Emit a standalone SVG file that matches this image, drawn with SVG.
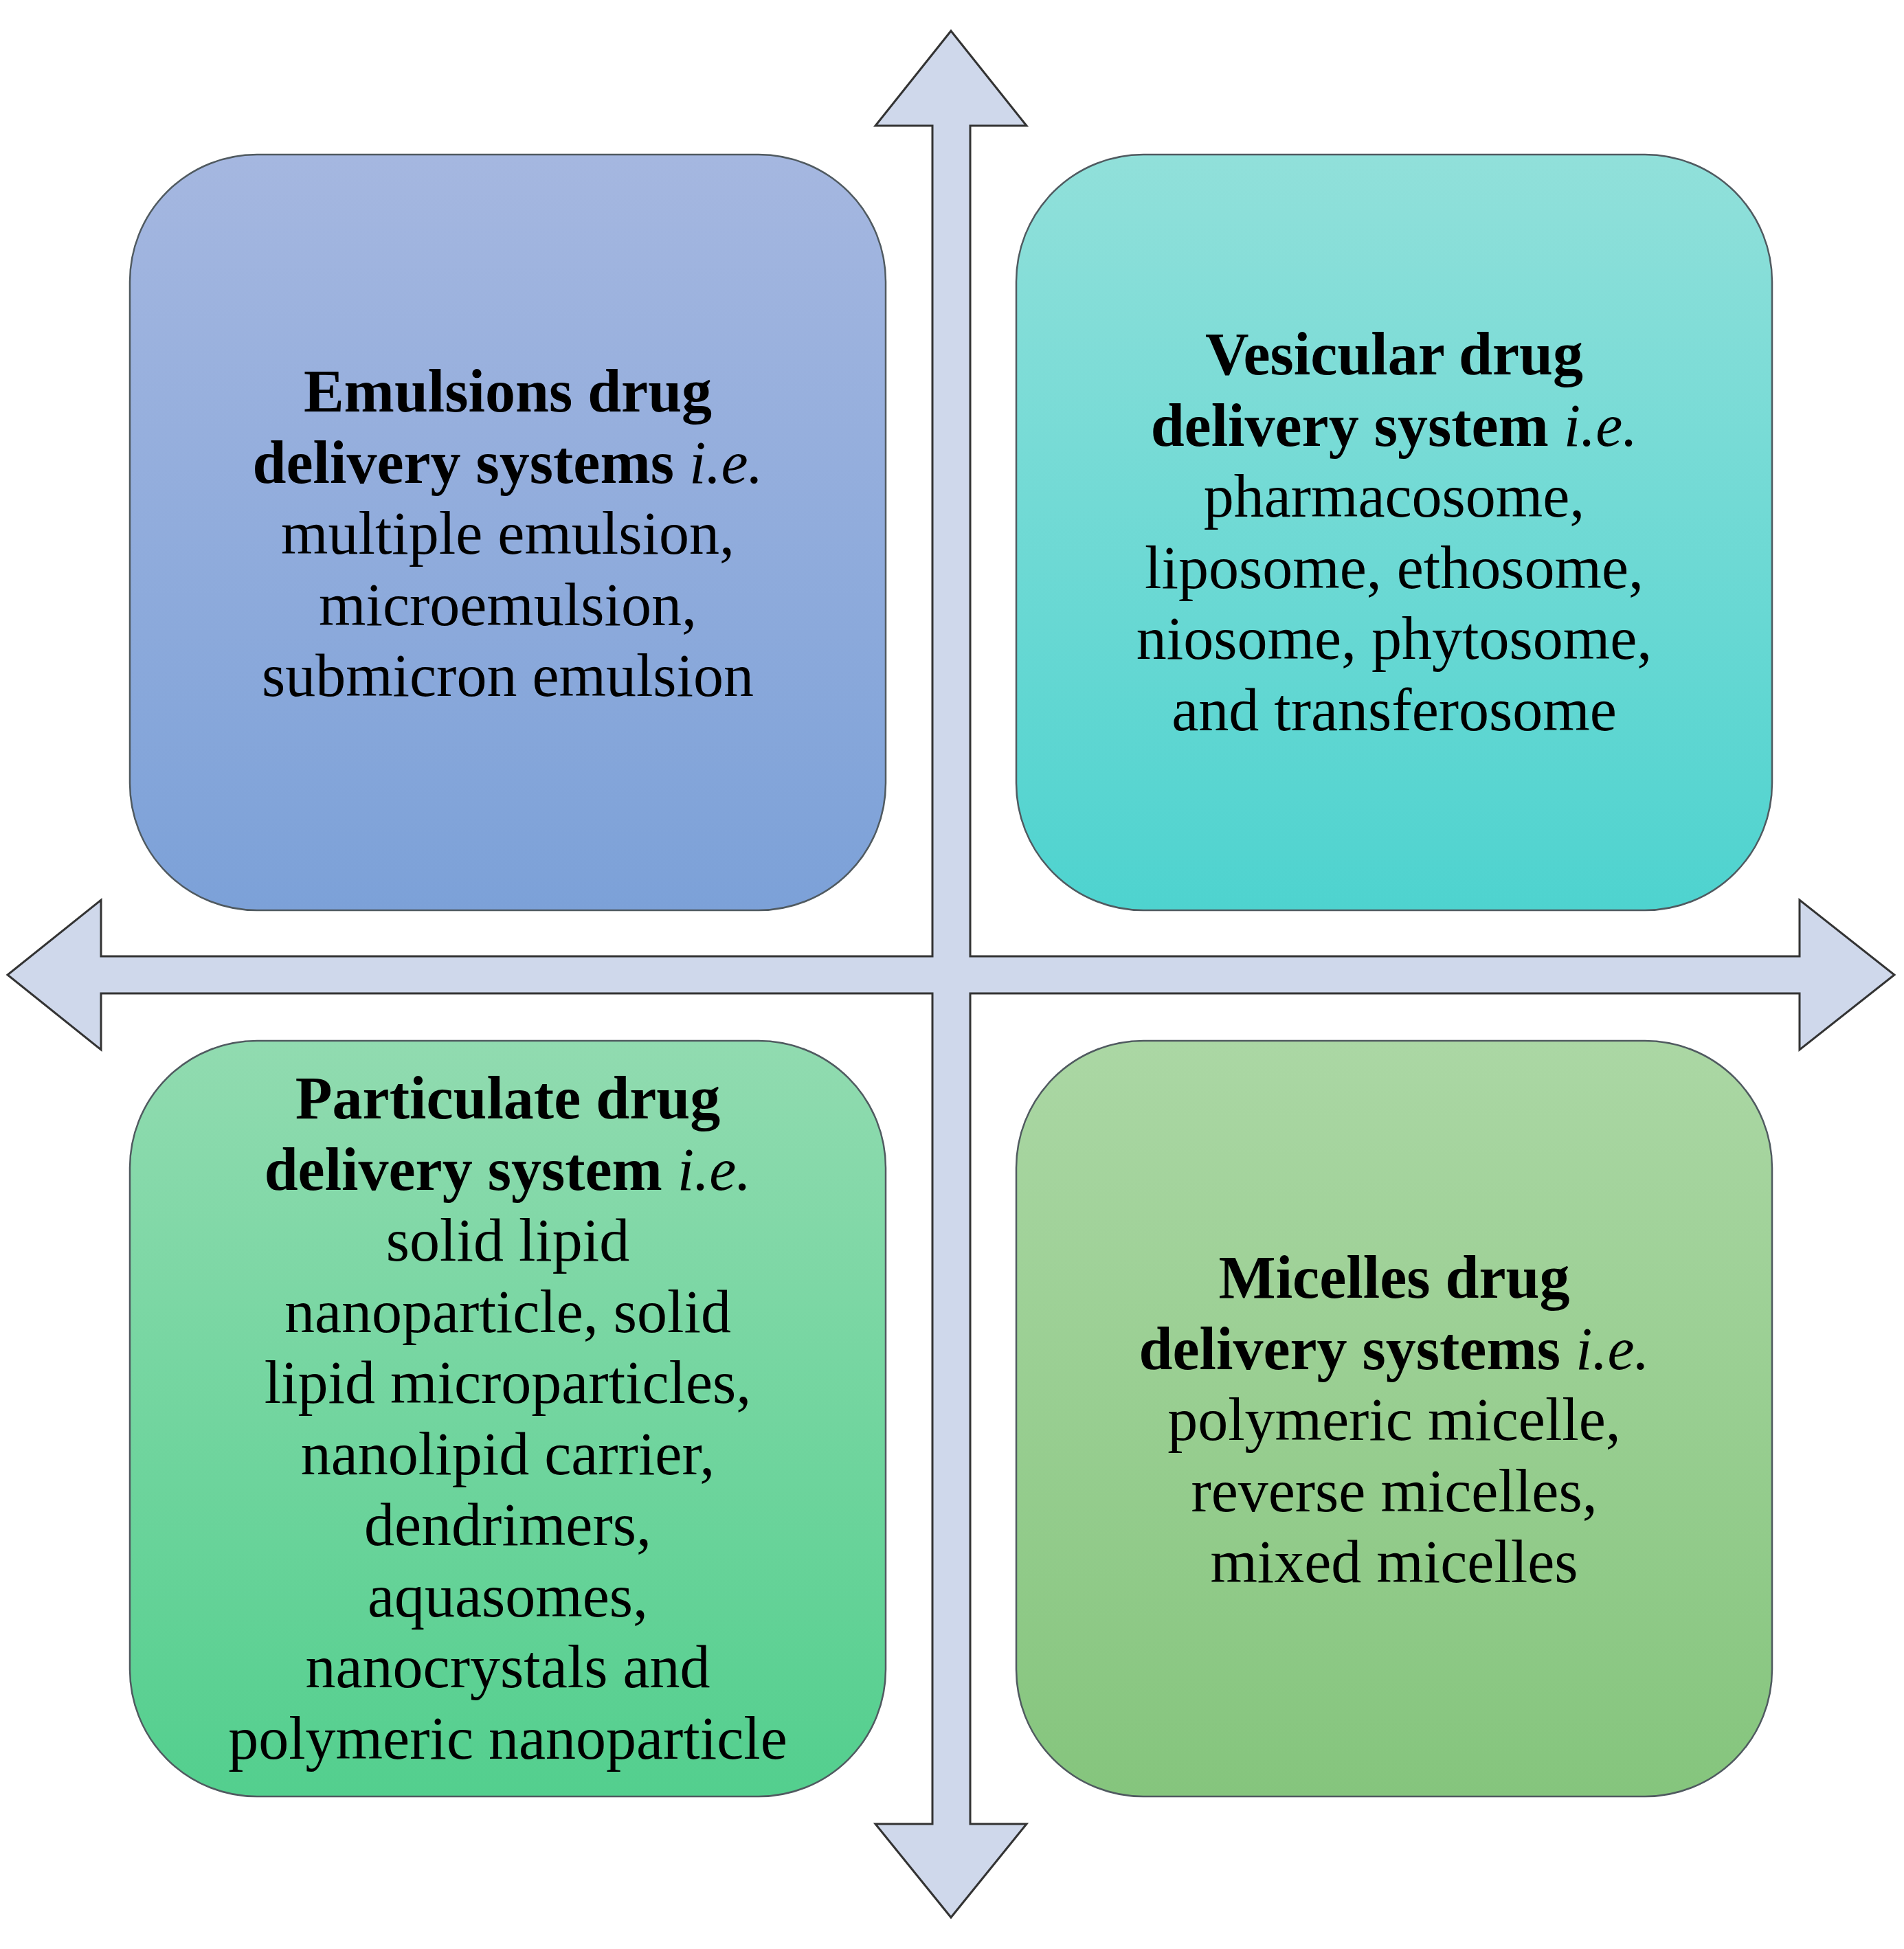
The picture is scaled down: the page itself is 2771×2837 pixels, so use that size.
<svg xmlns="http://www.w3.org/2000/svg" width="2771" height="2837" viewBox="0 0 2771 2837">
<style>
.b{stroke:#505a60;stroke-width:2.5}
text{font-family:"Liberation Serif","Times New Roman",serif;font-size:88px;text-anchor:middle;fill:#000}
.t{font-weight:bold}
</style>
<defs>
<linearGradient id="g1" x1="0" y1="0" x2="0" y2="1"><stop offset="0" stop-color="#a5b7e0"/><stop offset="1" stop-color="#7ca1d8"/></linearGradient>
<linearGradient id="g2" x1="0" y1="0" x2="0" y2="1"><stop offset="0" stop-color="#91e0da"/><stop offset="1" stop-color="#4ed3cf"/></linearGradient>
<linearGradient id="g3" x1="0" y1="0" x2="0" y2="1"><stop offset="0" stop-color="#91dbb0"/><stop offset="1" stop-color="#53cf8e"/></linearGradient>
<linearGradient id="g4" x1="0" y1="0" x2="0" y2="1"><stop offset="0" stop-color="#abd7a4"/><stop offset="1" stop-color="#85c57d"/></linearGradient>
</defs>
<rect width="2771" height="2837" fill="#fff"/>
<g id="connectors">
<polygon fill="#cfd8eb" stroke="#333" stroke-width="3" points="1384,45 1494,183 1412,183 1412,1392 2619,1392 2619,1310 2757,1419 2619,1528 2619,1446 1412,1446 1412,2655 1494,2655 1384,2791 1274,2655 1357,2655 1357,1446 147,1446 147,1528 11,1419 147,1310 147,1392 1357,1392 1357,183 1274,183"/>
</g>
<g id="emulsions">
<rect class="b" x="189" y="225" width="1100" height="1100" rx="185" fill="url(#g1)"/>
<text x="739" y="599"><tspan class="t">Emulsions drug</tspan><tspan x="739" dy="103.5" class="t">delivery systems </tspan><tspan font-style="italic">i.e.</tspan><tspan x="739" dy="103.5">multiple emulsion,</tspan><tspan x="739" dy="103.5">microemulsion,</tspan><tspan x="739" dy="103.5">submicron emulsion</tspan></text>
</g>
<g id="vesicular">
<rect class="b" x="1479" y="225" width="1100" height="1100" rx="185" fill="url(#g2)"/>
<text x="2029" y="545"><tspan class="t">Vesicular drug</tspan><tspan x="2029" dy="103.5" class="t">delivery system  </tspan><tspan font-style="italic">i.e.</tspan><tspan x="2029" dy="103.5">pharmacosome,</tspan><tspan x="2029" dy="103.5">liposome, ethosome,</tspan><tspan x="2029" dy="103.5">niosome, phytosome,</tspan><tspan x="2029" dy="103.5">and transferosome</tspan></text>
</g>
<g id="particulate">
<rect class="b" x="189" y="1515" width="1100" height="1100" rx="185" fill="url(#g3)"/>
<text x="739" y="1628"><tspan class="t">Particulate drug</tspan><tspan x="739" dy="103.5" class="t">delivery system </tspan><tspan font-style="italic">i.e.</tspan><tspan x="739" dy="103.5">solid lipid</tspan><tspan x="739" dy="103.5">nanoparticle, solid</tspan><tspan x="739" dy="103.5">lipid microparticles,</tspan><tspan x="739" dy="103.5">nanolipid carrier,</tspan><tspan x="739" dy="103.5">dendrimers,</tspan><tspan x="739" dy="103.5">aquasomes,</tspan><tspan x="739" dy="103.5">nanocrystals and</tspan><tspan x="739" dy="103.5">polymeric nanoparticle</tspan></text>
</g>
<g id="micelles">
<rect class="b" x="1479" y="1515" width="1100" height="1100" rx="185" fill="url(#g4)"/>
<text x="2029" y="1889"><tspan class="t">Micelles drug</tspan><tspan x="2029" dy="103.5" class="t">delivery systems </tspan><tspan font-style="italic">i.e.</tspan><tspan x="2029" dy="103.5">polymeric micelle,</tspan><tspan x="2029" dy="103.5">reverse micelles,</tspan><tspan x="2029" dy="103.5">mixed micelles</tspan></text>
</g>
</svg>
